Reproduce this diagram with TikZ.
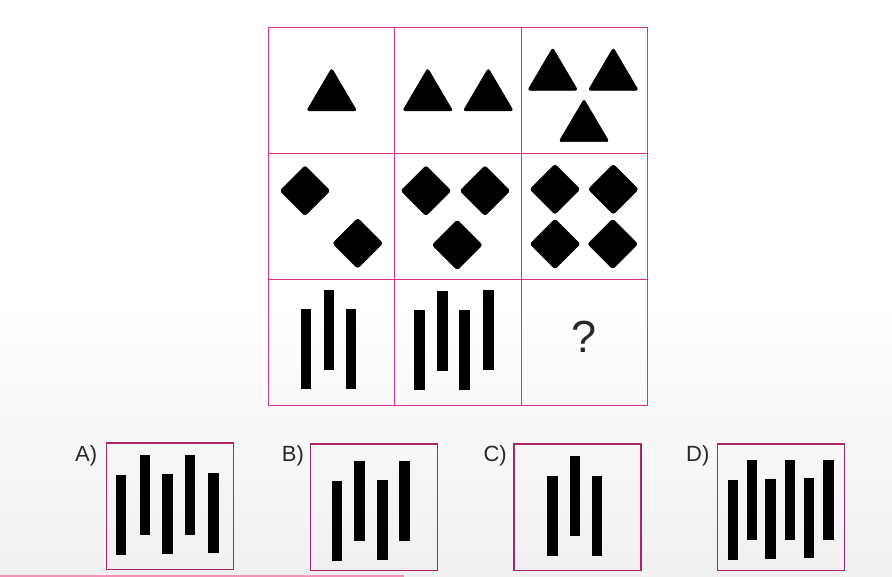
\documentclass[tikz,border=0pt]{standalone}
\usepackage{fontspec}
\setmainfont{Liberation Sans}
\definecolor{gridpink}{RGB}{218,48,140}
\definecolor{optred}{RGB}{165,40,100}
\definecolor{linepink}{RGB}{242,145,180}
\definecolor{bggray}{RGB}{240,240,240}
\definecolor{labelgray}{RGB}{40,40,40}
\begin{document}
\begin{tikzpicture}[x=1pt,y=-1pt,
  gridcell/.style={draw=gridpink, line width=1.1pt, minimum width=126.33pt, minimum height=126pt, inner sep=0pt, anchor=north west},
  optbox/.style={draw=optred, line width=1.3pt, minimum width=127pt, minimum height=126.6pt, inner sep=0pt, anchor=north west},
  optlabel/.style={font=\fontsize{22}{22}\selectfont, text=labelgray, inner sep=0pt, anchor=base west},
  shapefill/.style={fill=black, draw=black, line width=0.6pt, rounded corners=2.5pt, line join=round},
  pics/tri/.style={code={\filldraw[shapefill] (0,0) -- (25,42.5) -- (-25,42.5) -- cycle;}},
  pics/dia/.style={code={\filldraw[shapefill] (0,-25) -- (25,0) -- (0,25) -- (-25,0) -- cycle;}},
  pics/bar/.style={code={\fill[black] (0,0) rectangle (10.2,80);}}
]
\useasboundingbox (0,0) rectangle (892,577);
\fill[white] (0,0) rectangle (892,577);
\shade[top color=white, bottom color=bggray] (0,300) rectangle (892,577);

% grid cells
\node[gridcell] (c11) at (268,27) {};
\node[gridcell] (c12) at (394.33,27) {};
\node[gridcell] (c13) at (520.67,27) {};
\node[gridcell] (c21) at (268,153) {};
\node[gridcell] (c22) at (394.33,153) {};
\node[gridcell] (c23) at (520.67,153) {};
\node[gridcell] (c31) at (268,279) {};
\node[gridcell] (c32) at (394.33,279) {};
\node[gridcell] (c33) at (520.67,279) {};

% triangles
\pic at (331.7,68.3) {tri};
\pic at (427.7,68.3) {tri};
\pic at (488.3,68.3) {tri};
\pic at (552.7,47.8) {tri};
\pic at (613.3,47.8) {tri};
\pic at (584,99.2) {tri};

% diamonds
\pic at (305,190.7) {dia};
\pic at (357.7,243.3) {dia};
\pic at (426,190.7) {dia};
\pic at (485,190.7) {dia};
\pic at (457.3,245) {dia};
\pic at (555,189.3) {dia};
\pic at (613.3,189.3) {dia};
\pic at (555,244) {dia};
\pic at (612.7,244) {dia};

% bars in the grid
\pic at (300.7,309) {bar};
\pic at (323.7,290) {bar};
\pic at (346,309) {bar};
\pic at (414.3,310) {bar};
\pic at (437.3,291) {bar};
\pic at (459.3,310) {bar};
\pic at (483.3,290) {bar};

\node[font=\fontsize{45}{45}\selectfont, text=labelgray, inner sep=0pt] (q) at (584.5,337) {?};

% options
\node[optbox] (optA) at (105.7,442.3) {};
\node[optbox] (optB) at (310,443.3) {};
\node[optbox] (optC) at (513.3,443.3) {};
\node[optbox] (optD) at (716.7,443.3) {};
\node[optlabel] (labA) at (75,461.5) {A)};
\node[optlabel] (labB) at (281.7,461.5) {B)};
\node[optlabel] (labC) at (483.3,461.5) {C)};
\node[optlabel] (labD) at (686,461.5) {D)};

% option A bars
\pic at (115.7,475) {bar};
\pic at (140,455) {bar};
\pic at (162.3,474) {bar};
\pic at (185,455) {bar};
\pic at (208.3,473.3) {bar};
% option B bars
\pic at (331.7,480.7) {bar};
\pic at (354.3,461) {bar};
\pic at (377.3,480) {bar};
\pic at (399.3,461) {bar};
% option C bars
\pic at (547.3,475.7) {bar};
\pic at (570,456) {bar};
\pic at (592,475.7) {bar};
% option D bars
\pic at (727.7,480) {bar};
\pic at (746.7,460) {bar};
\pic at (765.3,479.3) {bar};
\pic at (785,460) {bar};
\pic at (804,478.3) {bar};
\pic at (823.3,460) {bar};

% bottom pink strip
\coordinate (pl) at (0,576);
\coordinate (pr) at (404,576);
\draw[draw=linepink, line width=2pt] (pl) -- (pr);
\end{tikzpicture}
\end{document}
